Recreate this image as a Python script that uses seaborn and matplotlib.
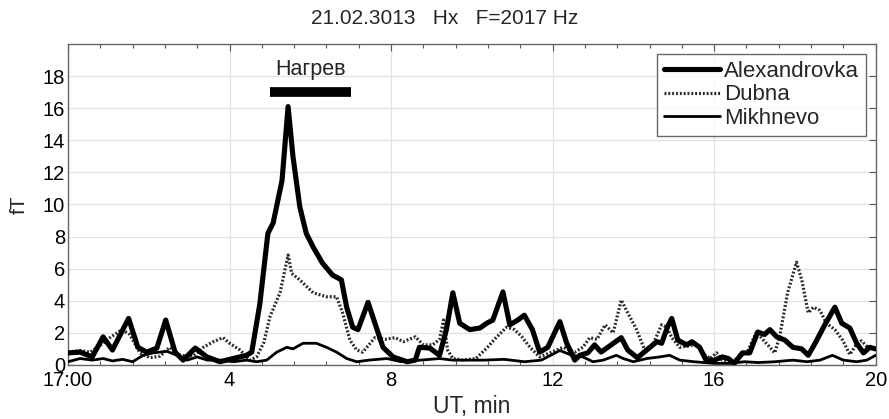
import matplotlib
matplotlib.use("Agg")
import matplotlib.pyplot as plt
from matplotlib.ticker import MultipleLocator
import seaborn as sns
import pandas as pd

# ---------------- data ----------------
alex_t = [0, 0.3, 0.6, 0.87, 1.1, 1.5, 1.73, 1.95, 2.2, 2.42, 2.65, 2.85, 3.15, 3.44, 3.76,
          4.17, 4.42, 4.55, 4.75, 4.95, 5.08, 5.3, 5.45, 5.57, 5.74, 5.9, 6.07, 6.3, 6.55,
          6.77, 6.9, 7.05, 7.18, 7.43, 7.6, 7.8, 8.05, 8.4, 8.6, 8.7, 8.96, 9.2, 9.37, 9.53,
          9.7, 9.95, 10.2, 10.37, 10.52, 10.77, 10.94, 11.14, 11.3, 11.5, 11.68, 11.88,
          12.18, 12.35, 12.55, 12.67, 12.87, 13.04, 13.2, 13.45, 13.7, 13.86, 14.1, 14.33,
          14.58, 14.7, 14.85, 14.95, 15.1, 15.32, 15.45, 15.64, 15.8, 16.0, 16.2, 16.35,
          16.5, 16.7, 16.88, 17.08, 17.25, 17.38, 17.55, 17.75, 17.95, 18.17, 18.33, 18.5,
          18.74, 18.99, 19.16, 19.36, 19.53, 19.7, 19.85, 20.0]
alex_v = [0.75, 0.8, 0.5, 1.75, 0.93, 2.9, 1.1, 0.8, 1.05, 2.8, 0.8, 0.3, 1.05, 0.5, 0.2,
          0.45, 0.6, 0.8, 3.8, 8.2, 8.85, 11.5, 16.1, 13.0, 9.85, 8.2, 7.35, 6.35, 5.6,
          5.3, 3.6, 2.35, 2.2, 3.9, 2.6, 1.1, 0.5, 0.2, 0.3, 1.1, 1.05, 0.6, 2.2, 4.5,
          2.6, 2.2, 2.3, 2.6, 2.8, 4.55, 2.5, 2.8, 3.1, 2.2, 0.8, 1.1,
          2.7, 1.35, 0.3, 0.6, 0.75, 1.25, 0.8, 1.25, 1.7, 0.93, 0.45, 0.93,
          1.45, 1.35, 2.4, 2.9, 1.55, 1.25, 1.45, 1.1, 0.3, 0.3, 0.5, 0.4,
          0.1, 0.75, 0.75, 2.05, 1.9, 2.2, 1.75, 1.55, 1.1, 1.0, 0.6, 1.35,
          2.5, 3.6, 2.6, 2.3, 1.35, 0.75, 1.1, 1.0]

dubna_t = [0, 0.3, 0.55, 0.87, 1.04, 1.33, 1.53, 1.78, 2.03, 2.28, 2.52, 2.77, 3.1, 3.35,
           3.6, 3.84, 4.0, 4.26, 4.5, 4.67, 4.85, 5.0, 5.25, 5.45, 5.54, 5.74, 6.07, 6.4,
           6.65, 6.8, 6.98, 7.15, 7.3, 7.6, 7.85, 8.1, 8.3, 8.6, 8.8, 9.03, 9.2, 9.3, 9.4,
           9.53, 9.78, 10.1, 10.37, 10.6, 10.86, 11.06, 11.24, 11.44, 11.68, 11.98, 12.26,
           12.55, 12.75, 12.92, 13.1, 13.3, 13.5, 13.7, 13.86, 14.08, 14.28, 14.48, 14.7,
           14.83, 14.95, 15.15, 15.4, 15.57, 15.73, 15.9, 16.06, 16.2, 16.43, 16.63, 16.83,
           17.05, 17.2, 17.38, 17.5, 17.62, 17.82, 18.04, 18.17, 18.33, 18.46, 18.62,
           18.78, 18.99, 19.18, 19.36, 19.53, 19.65, 19.8, 20.0]
dubna_v = [0.8, 0.9, 0.8, 1.35, 1.7, 2.2, 1.9, 0.75, 0.45, 0.55, 1.1, 0.6, 0.55, 1.1,
           1.45, 1.7, 1.35, 0.93, 0.3, 0.5, 1.4, 3.0, 4.5, 6.85, 5.7, 5.3, 4.5, 4.25,
           4.25, 3.25, 1.55, 0.93, 0.8, 1.7, 1.6, 1.7, 1.45, 1.75, 1.25, 1.25, 1.6, 2.8, 0.93,
           0.4, 0.3, 0.4, 1.05, 1.7, 2.35, 2.2, 1.75, 1.1, 0.5, 0.8, 1.1,
           0.8, 1.1, 1.7, 1.6, 2.5, 2.0, 4.05, 3.25, 2.2, 0.93, 1.25, 2.5,
           2.35, 1.7, 1.1, 1.2, 1.3, 0.7, 0.4, 0.75, 0.3, 0.2, 0.5, 0.85,
           2.05, 1.6, 1.1, 0.75, 1.75, 4.5, 6.4, 5.3, 3.25, 3.6, 3.4,
           2.6, 2.2, 1.55, 0.65, 1.3, 1.5, 1.1, 1.0]

mikh_t = [0, 0.3, 0.6, 0.87, 1.1, 1.35, 1.6, 1.86, 2.1, 2.45, 2.7, 2.95, 3.2, 3.45, 3.76,
          4.1, 4.42, 4.67, 4.92, 5.17, 5.42, 5.57, 5.82, 6.15, 6.4, 6.65, 6.9, 7.15, 7.45,
          7.9, 8.25, 8.73, 9.2, 9.53, 9.87, 10.3, 10.8, 11.3, 11.72, 12.18, 12.48, 12.75,
          13.0, 13.25, 13.58, 13.75, 14.0, 14.33, 14.65, 14.9, 15.15, 15.5, 16.0, 16.4,
          16.75, 17.1, 17.5, 17.95, 18.3, 18.62, 18.93, 19.2, 19.53, 19.78, 20.0]
mikh_v = [0.2, 0.4, 0.3, 0.4, 0.25, 0.35, 0.2, 0.6, 0.75, 0.85, 0.6, 0.3, 0.5, 0.3, 0.3,
          0.2, 0.3, 0.2, 0.3, 0.8, 1.1, 1.0, 1.35, 1.35, 1.1, 0.8, 0.4, 0.2, 0.3,
          0.4, 0.2, 0.3, 0.4, 0.3, 0.3, 0.3, 0.35, 0.2, 0.3, 0.9, 0.6, 0.5,
          0.2, 0.3, 0.6, 0.4, 0.2, 0.4, 0.5, 0.6, 0.3, 0.2, 0.1, 0.1,
          0.2, 0.15, 0.2, 0.3, 0.2, 0.3, 0.6, 0.3, 0.2, 0.3, 0.6]

heat_t = [5.0, 7.0]
heat_v = [17.0, 17.0]
heat_label = "Нагрев"

x_ticks = [0, 4, 8, 12, 16, 20]
x_ticklabels = ["17:00", "4", "8", "12", "16", "20"]
y_ticks = [0, 2, 4, 6, 8, 10, 12, 14, 16, 18]

title = "21.02.3013   Hx   F=2017 Hz"

# ---------------- plot ----------------
sns.set_theme(style="white")
plt.rcParams["font.family"] = ["Liberation Sans", "DejaVu Sans"]

fig = plt.figure(figsize=(8.89, 4.19), dpi=100)
ax = fig.add_axes([0.0765, 0.129, 0.9085, 0.766])

df_a = pd.DataFrame({"t": alex_t, "v": alex_v})
df_d = pd.DataFrame({"t": dubna_t, "v": dubna_v})
df_m = pd.DataFrame({"t": mikh_t, "v": mikh_v})

sns.lineplot(data=df_a, x="t", y="v", ax=ax, color="black", lw=3.7,
             label="Alexandrovka", zorder=4, sort=False)
sns.lineplot(data=df_d, x="t", y="v", ax=ax, color="#2a2a2a", lw=2.3,
             linestyle=(0, (0.6, 0.6)), label="Dubna", zorder=3, sort=False)
sns.lineplot(data=df_m, x="t", y="v", ax=ax, color="black", lw=2.0,
             label="Mikhnevo", zorder=3, sort=False)

ax.plot(heat_t, heat_v, color="black", lw=7, solid_capstyle="butt", zorder=5)
ax.text(sum(heat_t) / 2, 18.4, heat_label, ha="center", va="center", fontsize=15.5)

ax.set_xlim(0, 20)
ax.set_ylim(0, 20)
ax.set_xticks(x_ticks)
ax.set_xticklabels(x_ticklabels)
ax.xaxis.set_minor_locator(MultipleLocator(0.8))
ax.set_yticks(y_ticks)

ax.grid(True, which="major", color="#e2e2e2", lw=0.9)
ax.tick_params(axis="both", which="major", direction="in", length=5, width=0.8,
               top=True, right=True, labelsize=14.5, pad=2, colors="#555555",
               labelcolor="black")
ax.tick_params(axis="x", which="major", pad=4)
ax.tick_params(axis="x", which="minor", direction="in", length=3, width=0.8,
               top=True, bottom=True, colors="#555555")

for s in ax.spines.values():
    s.set_color("#666666")
    s.set_linewidth(1.0)

ax.set_xlabel("UT, min", fontsize=16.5, labelpad=4)
ax.set_ylabel("fT", fontsize=15, labelpad=10)
fig.text(0.5, 0.955, title, ha="center", va="center", fontsize=15)

leg = ax.legend(loc="upper right", fontsize=16, frameon=True, fancybox=False,
                edgecolor="#444444", handlelength=2.5, handletextpad=0.2,
                labelspacing=0.12, borderpad=0.3, borderaxespad=0.45)
leg.get_frame().set_linewidth(1.0)

fig.savefig("out.png", dpi=100)
